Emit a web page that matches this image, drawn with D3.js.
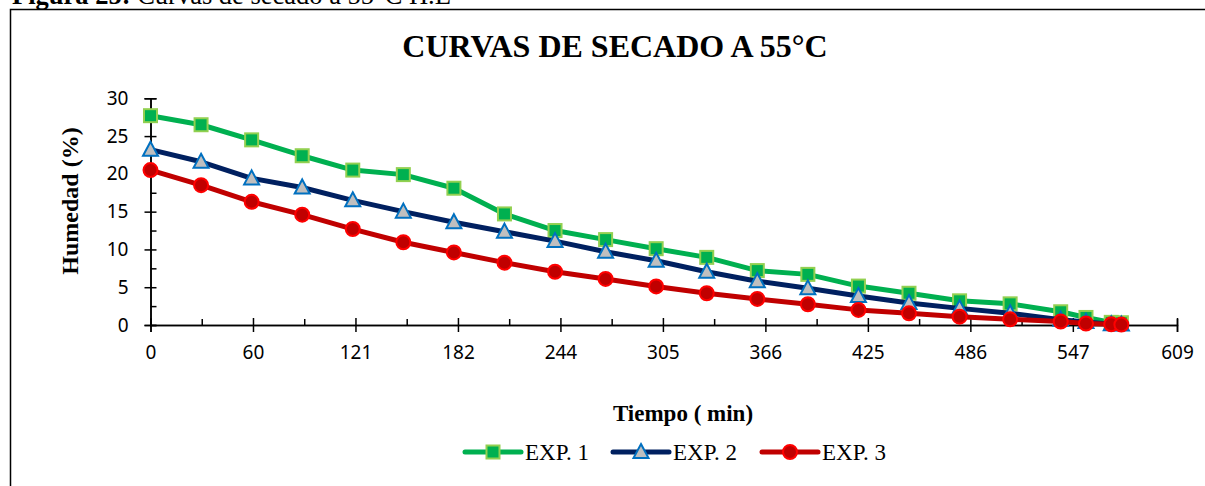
<!DOCTYPE html>
<html>
<head>
<meta charset="utf-8">
<script src="https://cdn.jsdelivr.net/npm/d3@7"></script>
<style>
  body { margin: 0; background: #fff; }
  svg { display: block; }
</style>
</head>
<body>
<div id="chart"></div>
<script>
var tiempo = [0, 30, 60, 90, 120, 150, 180, 210, 240, 270, 300, 330, 360, 390, 420, 450, 480, 510, 540, 555, 570, 576];
var exp1 = [27.7, 26.5, 24.5, 22.4, 20.5, 19.9, 18.1, 14.7, 12.5, 11.3, 10.1, 8.95, 7.2, 6.7, 5.15, 4.2, 3.2, 2.8, 1.75, 1.0, 0.35, 0.3];
var exp2 = [23.2, 21.6, 19.4, 18.2, 16.5, 15.0, 13.6, 12.35, 11.1, 9.7, 8.5, 7.05, 5.8, 4.85, 3.85, 2.9, 2.2, 1.55, 0.7, 0.4, 0.1, 0.05];
var exp3 = [20.5, 18.5, 16.3, 14.6, 12.7, 10.95, 9.6, 8.25, 7.05, 6.1, 5.1, 4.2, 3.45, 2.75, 2.0, 1.55, 1.1, 0.75, 0.45, 0.2, 0.1, 0.05];
var seriesNames = ['EXP. 1', 'EXP. 2', 'EXP. 3'];

var xTicks = [0, 60.8, 121.6, 182.4, 243.2, 304, 364.8, 425.6, 486.4, 547.2, 609];
var xTickLabels = ['0', '60', '121', '182', '244', '305', '366', '425', '486', '547', '609'];
var yTicks = [0, 5, 10, 15, 20, 25, 30];

var width = 1205,
	height = 486;

var serif = '"Liberation Serif", "Times New Roman", serif';
var sans = '"Noto Sans", "Open Sans", sans-serif';

var styles = [
	{ line: '#00B050', fill: '#00B050', stroke: '#92D050', shape: 'square' },
	{ line: '#002060', fill: '#BFBFBF', stroke: '#0070C0', shape: 'triangle' },
	{ line: '#C00000', fill: '#C00000', stroke: '#FF0000', shape: 'circle' }
];

var svg = d3.select('#chart')
		.append('svg')
		.attr('width', width)
		.attr('height', height)

// caption above the figure (cut by the page top)
var caption = svg.append('text')
		.attr('x', 12)
		.attr('y', 4)
		.attr('font-family', serif)
		.attr('font-size', 26.5)
		.attr('fill', '#000')
caption.append('tspan').attr('font-weight', 'bold').text('Figura 25:')
caption.append('tspan').text(' Curvas de secado a 55°C H.E')

svg.append('rect')
	.attr('x', 10.5)
	.attr('y', 9.5)
	.attr('width', width + 20)
	.attr('height', height + 20)
	.attr('fill', 'none')
	.attr('stroke', '#000')
	.attr('stroke-width', 1.5)

svg.append('text')
	.attr('x', 615)
	.attr('y', 57)
	.attr('text-anchor', 'middle')
	.attr('font-family', serif)
	.attr('font-weight', 'bold')
	.attr('font-size', 32)
	.text('CURVAS DE SECADO A 55°C')

var x = d3.scaleLinear().domain([0, 609]).range([150.5, 1177]);
var y = d3.scaleLinear().domain([0, 30]).range([325, 98.3]);

/***** axes *****/
var xMinor = d3.pairs(xTicks).map(p => (p[0] + p[1]) / 2);
var yMinor = d3.range(2.5, 30, 5);

var xAxis = svg.append('g').attr('transform', `translate(0, ${y(0)})`);
xAxis.call(d3.axisBottom(x).tickValues(xMinor).tickSize(-6).tickFormat(''))
xAxis.append('g').call(d3.axisBottom(x).tickValues(xTicks).tickSize(7).tickFormat((d, i) => xTickLabels[i]))
xAxis.selectAll('line').each(function() {
	var l = d3.select(this);
	if (+l.attr('y2') > 0) l.attr('y1', -7);
})

var yAxis = svg.append('g').attr('transform', `translate(${x(0)}, 0)`);
yAxis.call(d3.axisLeft(y).tickValues(yMinor).tickSize(-6).tickFormat(''))
yAxis.append('g').call(d3.axisLeft(y).tickValues(yTicks).tickSize(6).tickPadding(16).tickFormat(d3.format('d')))
yAxis.selectAll('line').each(function() {
	var l = d3.select(this);
	if (+l.attr('x2') < 0) l.attr('x1', 6);
})

svg.selectAll('.domain')
	.attr('stroke', '#000')
	.attr('stroke-width', 1.5)
svg.selectAll('.tick line')
	.attr('stroke', '#000')
	.attr('stroke-width', 1.5)
svg.selectAll('.tick text')
	.attr('font-family', sans)
	.attr('font-size', 19)
	.attr('fill', '#000')
xAxis.selectAll('.tick text').attr('y', 21)

svg.append('text')
	.attr('transform', 'translate(78, 201) rotate(-90)')
	.attr('text-anchor', 'middle')
	.attr('font-family', serif)
	.attr('font-weight', 'bold')
	.attr('font-size', 24)
	.text('Humedad (%)')

svg.append('text')
	.attr('x', 683)
	.attr('y', 421)
	.attr('text-anchor', 'middle')
	.attr('font-family', serif)
	.attr('font-weight', 'bold')
	.attr('font-size', 23)
	.text('Tiempo ( min)')

/***** series *****/
var series = [exp1, exp2, exp3].map((vals, i) => ({
	name: seriesNames[i],
	style: styles[i],
	points: vals.map((v, j) => ({ t: tiempo[j], h: v }))
}));

var line = d3.line()
		.x(d => x(d.t))
		.y(d => y(d.h))

function drawMarker(g, shape, fill, stroke) {
	if (shape === 'square') {
		g.append('rect').attr('x', -6.5).attr('y', -6.5).attr('width', 13).attr('height', 13)
	} else if (shape === 'triangle') {
		g.append('path').attr('d', 'M0,-8L7.5,6L-7.5,6Z')
	} else {
		g.append('circle').attr('r', 7)
	}
	g.selectAll('*')
		.attr('fill', fill)
		.attr('stroke', stroke)
		.attr('stroke-width', 2)
}

var chart = svg.selectAll('.serie')
		.data(series)
		.enter()
		.append('g')
		.attr('class', 'serie')

chart.append('path')
	.attr('d', d => line(d.points))
	.attr('fill', 'none')
	.attr('stroke', d => d.style.line)
	.attr('stroke-width', 5)
	.attr('stroke-linejoin', 'round')

chart.each(function(s) {
	d3.select(this).selectAll('.mk')
		.data(s.points)
		.enter()
		.append('g')
		.attr('class', 'mk')
		.attr('transform', d => `translate(${x(d.t)}, ${y(d.h)})`)
		.each(function() {
			drawMarker(d3.select(this), s.style.shape, s.style.fill, s.style.stroke)
		})
})

/***** legend *****/
var legendX = [465, 613, 762];
var legend = svg.selectAll('.legend')
		.data(series)
		.enter()
		.append('g')
		.attr('class', 'legend')
		.attr('transform', (d, i) => `translate(${legendX[i]}, 452)`)

legend.append('line')
	.attr('x1', 0)
	.attr('x2', 56)
	.attr('stroke', d => d.style.line)
	.attr('stroke-width', 5)
	.attr('stroke-linecap', 'round')

legend.each(function(d) {
	var m = d3.select(this).append('g').attr('transform', 'translate(28, 0)');
	drawMarker(m, d.style.shape, d.style.fill, d.style.stroke)
})

legend.append('text')
	.attr('x', 60)
	.attr('y', 8)
	.attr('font-family', serif)
	.attr('font-size', 23)
	.text(d => d.name)
</script>
</body>
</html>
